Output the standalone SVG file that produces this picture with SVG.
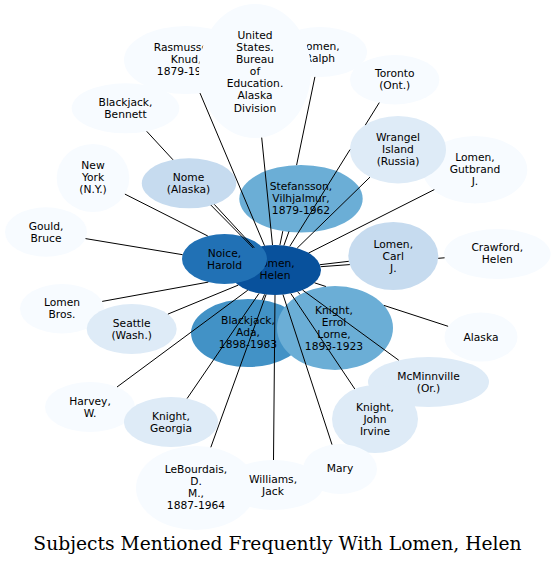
<svg xmlns="http://www.w3.org/2000/svg" width="556" height="565" viewBox="0 0 556 565">
<style>
text{font-family:"DejaVu Sans","Liberation Sans",sans-serif;font-size:10.7px;fill:#000;text-anchor:middle;dominant-baseline:central}
.c1{fill:#f7fbff}.c2{fill:#deebf7}.c3{fill:#c6dbef}.c5{fill:#6baed6}.c6{fill:#4292c6}.c7{fill:#2171b5}.c8{fill:#08519c}
#edges line{stroke:#000;stroke-width:1}
.title{font-family:"DejaVu Serif","Liberation Serif",serif;font-size:18.7px;dominant-baseline:auto}
</style>
<rect width="556" height="565" fill="#fff"/>
<g id="rasmussen"><ellipse class="c1" cx="186" cy="60" rx="62" ry="34"/><text><tspan x="186" y="47">Rasmussen,</tspan><tspan x="186" y="59">Knud,</tspan><tspan x="186" y="71">1879-1933</tspan></text></g>
<g id="lomen-ralph"><ellipse class="c1" cx="320" cy="52" rx="47" ry="25"/><text><tspan x="320" y="46">Lomen,</tspan><tspan x="320" y="58">Ralph</tspan></text></g>
<g id="us-bureau"><ellipse class="c1" cx="255" cy="71" rx="56" ry="67"/><text><tspan x="255" y="34.5">United</tspan><tspan x="255" y="46.7">States.</tspan><tspan x="255" y="58.8">Bureau</tspan><tspan x="255" y="71">of</tspan><tspan x="255" y="83.2">Education.</tspan><tspan x="255" y="95.3">Alaska</tspan><tspan x="255" y="107.5">Division</tspan></text></g>
<g id="toronto"><ellipse class="c1" cx="394.7" cy="79.7" rx="44.7" ry="24.7"/><text><tspan x="394.7" y="73.2">Toronto</tspan><tspan x="394.7" y="85">(Ont.)</tspan></text></g>
<g id="gutbrand"><ellipse class="c1" cx="475" cy="169.7" rx="52.3" ry="33.7"/><text><tspan x="475" y="157">Lomen,</tspan><tspan x="475" y="169">Gutbrand</tspan><tspan x="475" y="181">J.</tspan></text></g>
<g id="wrangel"><ellipse class="c2" cx="398" cy="149.7" rx="48" ry="33.7"/><text><tspan x="398" y="137">Wrangel</tspan><tspan x="398" y="149">Island</tspan><tspan x="398" y="161">(Russia)</tspan></text></g>
<g id="stefansson"><ellipse class="c5" cx="301" cy="198.8" rx="61.7" ry="33.8"/><text><tspan x="301" y="186">Stefansson,</tspan><tspan x="301" y="198">Vilhjalmur,</tspan><tspan x="301" y="210">1879-1962</tspan></text></g>
<g id="blackjack-bennett"><ellipse class="c1" cx="125.5" cy="108.3" rx="53.8" ry="25"/><text><tspan x="125.5" y="102">Blackjack,</tspan><tspan x="125.5" y="114">Bennett</tspan></text></g>
<g id="nome"><ellipse class="c3" cx="189" cy="183.3" rx="47.2" ry="25"/><text><tspan x="188.5" y="176.5">Nome</tspan><tspan x="188.5" y="188.5">(Alaska)</tspan></text></g>
<g id="new-york"><ellipse class="c1" cx="93" cy="178" rx="36.3" ry="34"/><text><tspan x="93" y="165">New</tspan><tspan x="93" y="177">York</tspan><tspan x="93" y="189">(N.Y.)</tspan></text></g>
<g id="gould"><ellipse class="c1" cx="46" cy="232" rx="41" ry="24.7"/><text><tspan x="46" y="225.5">Gould,</tspan><tspan x="46" y="237.5">Bruce</tspan></text></g>
<g id="lomen-helen"><ellipse class="c8" cx="275" cy="270" rx="46" ry="25"/><text><tspan x="275" y="262.5">Lomen,</tspan><tspan x="275" y="274.5">Helen</tspan></text></g>
<g id="noice"><ellipse class="c7" cx="224.5" cy="259" rx="42.5" ry="25"/><text><tspan x="224.5" y="252.5">Noice,</tspan><tspan x="224.5" y="264.5">Harold</tspan></text></g>
<g id="lomen-carl"><ellipse class="c3" cx="393.3" cy="256" rx="45" ry="34"/><text><tspan x="393.3" y="243.5">Lomen,</tspan><tspan x="393.3" y="255.5">Carl</tspan><tspan x="393.3" y="267.5">J.</tspan></text></g>
<g id="crawford"><ellipse class="c1" cx="497.3" cy="254" rx="53.3" ry="25"/><text><tspan x="497.3" y="247">Crawford,</tspan><tspan x="497.3" y="259">Helen</tspan></text></g>
<g id="lomen-bros"><ellipse class="c1" cx="62" cy="308.7" rx="42" ry="24.7"/><text><tspan x="62" y="302">Lomen</tspan><tspan x="62" y="314">Bros.</tspan></text></g>
<g id="seattle"><ellipse class="c2" cx="131.7" cy="329" rx="45" ry="25"/><text><tspan x="131.7" y="322.5">Seattle</tspan><tspan x="131.7" y="334.5">(Wash.)</tspan></text></g>
<g id="blackjack-ada"><ellipse class="c6" cx="248" cy="333" rx="57" ry="34"/><text><tspan x="248" y="320">Blackjack,</tspan><tspan x="248" y="332">Ada,</tspan><tspan x="248" y="344">1898-1983</tspan></text></g>
<g id="knight-errol"><ellipse class="c5" cx="335" cy="328" rx="58" ry="42"/><text><tspan x="334" y="309.5">Knight,</tspan><tspan x="334" y="321.5">Errol</tspan><tspan x="334" y="333.5">Lorne,</tspan><tspan x="334" y="345.5">1893-1923</tspan></text></g>
<g id="alaska"><ellipse class="c1" cx="481" cy="337" rx="36.5" ry="24.5"/><text x="481" y="337">Alaska</text></g>
<g id="mcminnville"><ellipse class="c2" cx="428.5" cy="382" rx="60.5" ry="25"/><text><tspan x="428.5" y="375.5">McMinnville</tspan><tspan x="428.5" y="387.5">(Or.)</tspan></text></g>
<g id="knight-john"><ellipse class="c2" cx="375" cy="419" rx="43" ry="34"/><text><tspan x="375" y="406.5">Knight,</tspan><tspan x="375" y="418.5">John</tspan><tspan x="375" y="430.5">Irvine</tspan></text></g>
<g id="harvey"><ellipse class="c1" cx="90" cy="407" rx="45" ry="25"/><text><tspan x="90" y="400.5">Harvey,</tspan><tspan x="90" y="412.5">W.</tspan></text></g>
<g id="knight-georgia"><ellipse class="c2" cx="171" cy="422" rx="47" ry="25"/><text><tspan x="171" y="415.5">Knight,</tspan><tspan x="171" y="427.5">Georgia</tspan></text></g>
<g id="lebourdais"><ellipse class="c1" cx="196" cy="488" rx="60" ry="42"/><text><tspan x="196" y="468.5">LeBourdais,</tspan><tspan x="196" y="480.5">D.</tspan><tspan x="196" y="492.5">M.,</tspan><tspan x="196" y="504.5">1887-1964</tspan></text></g>
<g id="williams"><ellipse class="c1" cx="273.5" cy="485" rx="50" ry="25"/><text><tspan x="273" y="478.5">Williams,</tspan><tspan x="273" y="490.5">Jack</tspan></text></g>
<g id="mary"><ellipse class="c1" cx="340" cy="469" rx="37" ry="25"/><text x="340" y="468.5">Mary</text></g>
<g id="edges">
<line x1="264.5" y1="245.7" x2="200" y2="93.1"/>
<line x1="272.5" y1="245" x2="261.7" y2="137.6"/>
<line x1="279.9" y1="245.1" x2="282.8" y2="231.1"/>
<line x1="296.6" y1="165.1" x2="314.9" y2="76.9"/>
<line x1="289.8" y1="246.3" x2="350" y2="149.6"/>
<line x1="365.3" y1="125.1" x2="379.3" y2="102.6"/>
<line x1="297.2" y1="248.1" x2="370" y2="177.1"/>
<line x1="308.7" y1="253" x2="434.3" y2="189.6"/>
<line x1="283.9" y1="245.5" x2="289" y2="231.4"/>
<line x1="253.2" y1="248" x2="210.9" y2="205.1"/>
<line x1="146.7" y1="131.3" x2="173" y2="159.8"/>
<line x1="214.3" y1="204.4" x2="254.3" y2="247.7"/>
<line x1="124.9" y1="194.1" x2="207.8" y2="236"/>
<line x1="85.5" y1="238.6" x2="182.6" y2="254.7"/>
<line x1="102.2" y1="301.4" x2="208.3" y2="282.1"/>
<line x1="320" y1="264.7" x2="348.8" y2="261.3"/>
<line x1="320.6" y1="266.7" x2="349.8" y2="264.6"/>
<line x1="438.2" y1="258.3" x2="444.6" y2="257.8"/>
<line x1="238.3" y1="285.1" x2="167.9" y2="314.1"/>
<line x1="247.8" y1="290.2" x2="117" y2="387"/>
<line x1="259" y1="293.4" x2="187.1" y2="398.5"/>
<line x1="266.1" y1="294.5" x2="210.8" y2="447.3"/>
<line x1="275" y1="295" x2="273.5" y2="460"/>
<line x1="283" y1="294.6" x2="332" y2="444.6"/>
<line x1="290.8" y1="293.5" x2="354.8" y2="389"/>
<line x1="302.5" y1="290" x2="398.7" y2="360.2"/>
<line x1="314.5" y1="282.8" x2="325.9" y2="286.5"/>
<line x1="383.9" y1="305.4" x2="448.1" y2="326.3"/>
<line x1="264.6" y1="294.4" x2="262.1" y2="300.1"/>
<line x1="297.5" y1="291.8" x2="300.2" y2="294.4"/>
</g>
<text class="title" x="277.5" y="549.5">Subjects Mentioned Frequently With Lomen, Helen</text>
</svg>
